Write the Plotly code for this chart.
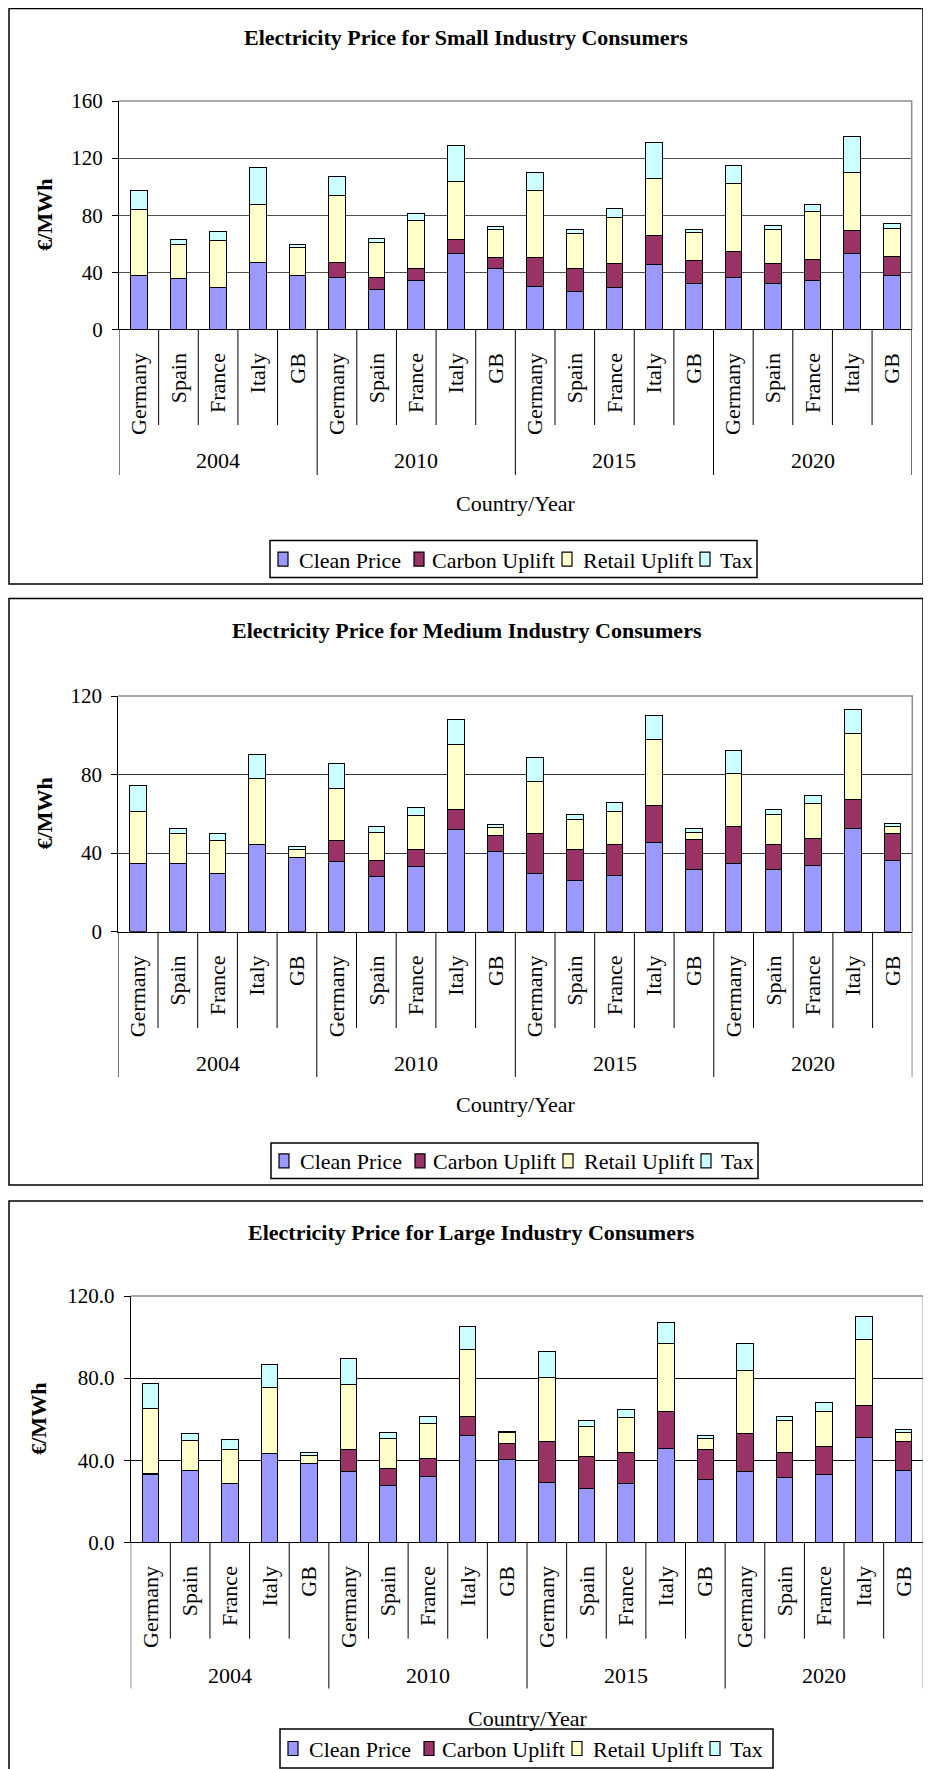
"""
Three stacked bar charts: electricity price breakdown for small, medium and
large industry consumers, by country and year.
"""

import plotly.graph_objects as go

W, H = 931, 1769
OFF = 8  # the page body margin pushes the figure 8px right and down
FIG_W, FIG_H = W - OFF, H - OFF

YEARS = ["2004", "2010", "2015", "2020"]
COUNTRIES = ["Germany", "Spain", "France", "Italy", "GB"]
SERIES = ["Clean Price", "Carbon Uplift", "Retail Uplift", "Tax"]
COLORS = ["#9999FF", "#993366", "#FFFFCC", "#CCFFFF"]

# segment values, 20 bars each (Germany..GB for 2004, 2010, 2015, 2020)
small_clean = [37.4, 35.5, 29.2, 47.0, 37.4, 36.4, 27.8, 34.3, 52.8, 42.7,
               29.9, 26.6, 29.2, 45.6, 32.0, 36.4, 32.0, 34.3, 53.0, 37.4]
small_carbon = [0, 0, 0, 0, 0, 10.6, 8.6, 8.4, 9.8, 7.3,
                20.1, 16.1, 16.6, 20.0, 16.1, 17.8, 13.8, 14.8, 15.9, 13.5]
small_retail = [46.9, 23.6, 33.2, 40.8, 19.6, 47.1, 24.1, 33.5, 40.7, 19.8,
                47.2, 24.1, 32.5, 39.8, 19.6, 48.1, 24.0, 33.4, 40.9, 19.9]
small_tax = [12.9, 3.5, 5.8, 25.3, 2.3, 12.9, 3.0, 5.3, 25.4, 2.1,
             12.6, 3.0, 6.3, 25.4, 2.1, 12.6, 3.3, 5.3, 25.2, 3.3]

medium_clean = [34.8, 34.8, 29.5, 44.6, 37.8, 35.5, 28.0, 33.3, 52.1, 40.9,
                29.5, 26.3, 28.7, 45.3, 31.7, 34.8, 31.7, 33.9, 52.3, 36.3]
medium_carbon = [0, 0, 0, 0, 0, 10.7, 8.1, 8.3, 10.0, 8.3,
                 20.4, 15.3, 15.9, 19.0, 15.1, 19.0, 12.9, 13.8, 15.2, 13.6]
medium_retail = [26.5, 15.1, 16.7, 33.5, 3.8, 26.6, 14.6, 17.5, 33.4, 3.8,
                 26.8, 15.3, 16.8, 33.4, 3.9, 26.5, 15.1, 17.5, 33.5, 3.9]
medium_tax = [13.0, 2.5, 3.7, 12.2, 1.7, 12.9, 3.1, 3.9, 12.3, 1.5,
              12.1, 3.0, 4.6, 12.4, 1.6, 12.2, 2.4, 3.9, 12.0, 1.5]

large_clean = [32.8, 35.1, 28.6, 43.2, 38.2, 34.4, 27.8, 32.2, 52.0, 40.1,
               29.2, 26.1, 28.6, 45.5, 30.7, 34.4, 31.5, 33.0, 51.3, 35.1]
large_carbon = [0.5, 0, 0, 0, 0, 10.9, 8.1, 8.7, 9.5, 8.1,
                19.8, 15.6, 15.2, 18.3, 14.6, 18.4, 12.3, 13.9, 15.4, 13.9]
large_retail = [31.7, 14.6, 16.7, 32.3, 4.2, 31.7, 14.6, 16.8, 32.2, 5.1,
                31.5, 14.8, 17.1, 33.0, 5.2, 30.8, 15.6, 16.8, 32.2, 4.4]
large_tax = [12.5, 3.1, 4.6, 11.1, 1.4, 12.5, 2.9, 3.8, 11.2, 0.9,
             12.6, 2.9, 3.7, 10.2, 1.5, 13.3, 2.1, 4.5, 11.2, 1.5]

FONT = "Liberation Serif, Times New Roman, serif"

# legend key layout, offsets from the legend box's left edge (px)
KEY_SWATCH_X = [8, 144, 292, 430]
KEY_TEXT_X = [27, 160, 311, 448]

# panel geometry in page pixels (left, top, right, bottom)
PANELS = [
    dict(title="Electricity Price for Small Industry Consumers",
         data=[small_clean, small_carbon, small_retail, small_tax],
         ymax=160, fmt="d", grid="#4d4d4d",
         box=(9, 8.5, 923, 584), plot=(119, 101, 911.7, 329.3),
         inner_end=425, year_end=475, year_y=461, xtitle_y=503,
         legend=(270, 540.6, 757, 577.5), title_xy=(466, 37.6), ytitle_x=44.5),
    dict(title="Electricity Price for Medium Industry Consumers",
         data=[medium_clean, medium_carbon, medium_retail, medium_tax],
         ymax=120, fmt="d", grid="#333333",
         box=(9, 598.4, 923, 1185), plot=(118.3, 696, 912.3, 931.7),
         inner_end=1028, year_end=1077, year_y=1063.4, xtitle_y=1104.7,
         legend=(271, 1143, 758, 1178.6), title_xy=(467, 630), ytitle_x=44.5),
    dict(title="Electricity Price for Large Industry Consumers",
         data=[large_clean, large_carbon, large_retail, large_tax],
         ymax=120, fmt=".1f", grid="#000000",
         box=(9, 1201, 945, 1790), plot=(130.7, 1296, 923.3, 1542.3),
         inner_end=1638.7, year_end=1688.5, year_y=1675, xtitle_y=1718,
         legend=(280, 1729, 773, 1768), title_xy=(472, 1232.5), ytitle_x=38.6),
]


def fx(v):
    return (v - OFF) / FIG_W


def fy(v):
    return 1 - (v - OFF) / FIG_H


fig = go.Figure()
shapes, annotations = [], []
labels = COUNTRIES * len(YEARS)
positions = list(range(len(labels)))

for k, p in enumerate(PANELS):
    n = "" if k == 0 else str(k + 1)
    xa, ya = "x" + n, "y" + n

    for name, color, vals in zip(SERIES, COLORS, p["data"]):
        fig.add_trace(go.Bar(
            x=positions, y=vals, name=name, xaxis=xa, yaxis=ya,
            marker=dict(color=color, line=dict(color="black", width=1)),
            showlegend=False, hoverinfo="name+y",
        ))

    l, t, r, b = p["plot"]
    fig.layout["xaxis" + n] = dict(
        domain=[fx(l), fx(r)], anchor=ya, range=[-0.5, len(labels) - 0.5],
        tickvals=positions, ticktext=labels, tickangle=-90,
        tickfont=dict(family=FONT, size=22, color="black"),
        ticks="", ticklabelstandoff=14, showgrid=False, zeroline=False,
        showline=True, linecolor="black", linewidth=1, fixedrange=True,
    )
    fig.layout["yaxis" + n] = dict(
        domain=[fy(b), fy(t)], anchor=xa, range=[0, p["ymax"]], dtick=40,
        tickformat=p["fmt"], ticks="outside", ticklen=6, tickcolor="black",
        tickfont=dict(family=FONT, size=21, color="black"),
        ticklabelstandoff=5,
        showgrid=True, gridcolor=p["grid"], gridwidth=1, zeroline=False,
        showline=True, linecolor="black", linewidth=1, fixedrange=True,
    )

    # plot area border (top and right), grey
    shapes.append(dict(type="path", xref=xa + " domain", yref=ya + " domain",
                       path="M 0,1 L 1,1 L 1,0", line=dict(color="#8c8c8c", width=1.5),
                       layer="above"))
    # category / year dividers below the axis
    for i in range(len(labels) + 1):
        end = p["year_end"] if i % len(COUNTRIES) == 0 else p["inner_end"]
        shapes.append(dict(type="line", xref=xa, yref="paper",
                           x0=i - 0.5, x1=i - 0.5, y0=fy(b), y1=fy(end),
                           line=dict(color="black", width=1)))
    for j, yr in enumerate(YEARS):
        annotations.append(dict(
            text=yr, xref=xa, yref="paper", x=j * len(COUNTRIES) + 2, y=fy(p["year_y"]),
            showarrow=False, font=dict(family=FONT, size=22, color="black"),
            xanchor="center", yanchor="middle"))

    # outer box of the panel
    bl, bt, br, bb = p["box"]
    shapes.append(dict(type="rect", xref="paper", yref="paper",
                       x0=fx(bl), x1=fx(br), y0=fy(bb), y1=fy(bt),
                       line=dict(color="black", width=1.5)))

    tx, ty = p["title_xy"]
    annotations += [
        dict(text="<b>" + p["title"] + "</b>", xref="paper", yref="paper",
             x=fx(tx), y=fy(ty), showarrow=False, xanchor="center", yanchor="middle",
             font=dict(family=FONT, size=22, color="black")),
        dict(text="<b>€/MWh</b>", xref="paper", yref="paper", textangle=-90,
             x=fx(p["ytitle_x"]), y=fy((t + b) / 2), showarrow=False,
             xanchor="center", yanchor="middle",
             font=dict(family=FONT, size=22, color="black")),
        dict(text="Country/Year", xref="paper", yref="paper",
             x=fx((l + r) / 2), y=fy(p["xtitle_y"]), showarrow=False,
             xanchor="center", yanchor="middle",
             font=dict(family=FONT, size=22, color="black")),
    ]

    # legend: boxed row of keys
    gl, gt, gr, gb = p["legend"]
    gm = (gt + gb) / 2
    shapes.append(dict(type="rect", xref="paper", yref="paper",
                       x0=fx(gl), x1=fx(gr), y0=fy(gb), y1=fy(gt),
                       fillcolor="white", line=dict(color="black", width=1.5)))
    for name, color, sx, tx_ in zip(SERIES, COLORS, KEY_SWATCH_X, KEY_TEXT_X):
        shapes.append(dict(type="rect", xref="paper", yref="paper",
                           x0=fx(gl + sx), x1=fx(gl + sx + 10),
                           y0=fy(gm + 7), y1=fy(gm - 7),
                           fillcolor=color, line=dict(color="black", width=1.2)))
        annotations.append(dict(
            text=name, xref="paper", yref="paper", x=fx(gl + tx_), y=fy(gm + 1),
            showarrow=False, xanchor="left", yanchor="middle",
            font=dict(family=FONT, size=22, color="black")))

fig.update_layout(
    width=FIG_W, height=FIG_H, barmode="stack", bargap=0.58,
    margin=dict(l=0, r=0, t=0, b=0, autoexpand=False),
    paper_bgcolor="white", plot_bgcolor="white",
    shapes=shapes, annotations=annotations, showlegend=False,
    font=dict(family=FONT, color="black"),
)

fig.write_html("out.html")
